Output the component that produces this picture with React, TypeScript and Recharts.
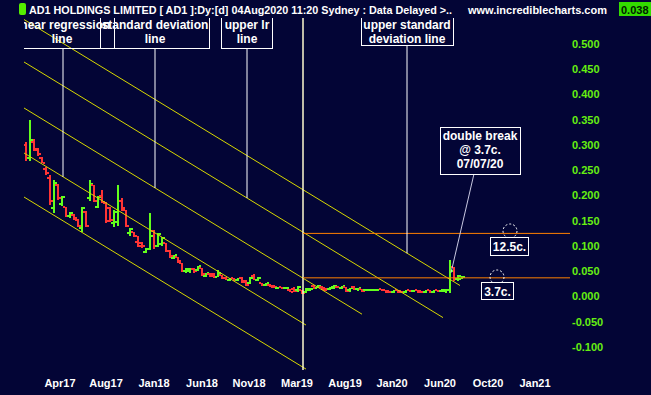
import { ComposedChart, Bar, XAxis, YAxis, ReferenceLine } from 'recharts';

// one bar every ~2 weeks (AUD)
const OPEN = [
  0.300, 0.275, 0.306, 0.292, 0.274, 0.252, 0.235, 0.175, 0.220, 0.183,
  0.178, 0.160, 0.162, 0.152, 0.135, 0.167, 0.195, 0.221, 0.178, 0.200,
  0.185, 0.176, 0.145, 0.148, 0.190, 0.172, 0.125, 0.128, 0.108, 0.106,
  0.088, 0.094, 0.130, 0.100, 0.104, 0.106, 0.090, 0.077, 0.078, 0.066,
  0.050, 0.050, 0.054, 0.052, 0.056, 0.040, 0.045, 0.044, 0.039, 0.042,
  0.037, 0.033, 0.036, 0.032, 0.036, 0.030, 0.026, 0.040, 0.032, 0.026,
  0.023, 0.023, 0.021, 0.016, 0.018, 0.016, 0.013, 0.015, 0.012, 0.012,
  0.008, 0.012, 0.020, 0.017, 0.019, 0.016, 0.015, 0.017, 0.019, 0.017,
  0.018, 0.012, 0.019, 0.014, 0.014, 0.012, 0.013, 0.012, 0.013, 0.014,
  0.012, 0.010, 0.009, 0.012, 0.010, 0.009, 0.012, 0.010, 0.012, 0.010,
  0.009, 0.012, 0.009, 0.012, 0.010, 0.010, 0.012, 0.058, 0.034, 0.035,
];
const HIGH = [
  0.305, 0.350, 0.312, 0.295, 0.276, 0.256, 0.240, 0.231, 0.222, 0.199,
  0.178, 0.168, 0.164, 0.153, 0.178, 0.170, 0.231, 0.221, 0.199, 0.211,
  0.188, 0.178, 0.172, 0.221, 0.195, 0.172, 0.136, 0.128, 0.120, 0.108,
  0.096, 0.165, 0.132, 0.126, 0.118, 0.106, 0.092, 0.083, 0.079, 0.066,
  0.057, 0.056, 0.056, 0.061, 0.057, 0.047, 0.046, 0.046, 0.052, 0.043,
  0.038, 0.037, 0.037, 0.037, 0.038, 0.032, 0.038, 0.044, 0.038, 0.027,
  0.027, 0.024, 0.023, 0.019, 0.019, 0.018, 0.014, 0.018, 0.021, 0.013,
  0.017, 0.016, 0.023, 0.022, 0.020, 0.017, 0.019, 0.023, 0.020, 0.021,
  0.019, 0.017, 0.020, 0.017, 0.015, 0.014, 0.014, 0.014, 0.014, 0.014,
  0.012, 0.011, 0.013, 0.013, 0.011, 0.013, 0.013, 0.013, 0.013, 0.011,
  0.013, 0.013, 0.013, 0.013, 0.014, 0.014, 0.072, 0.058, 0.043, 0.040,
];
const LOW = [
  0.268, 0.268, 0.288, 0.280, 0.264, 0.240, 0.180, 0.165, 0.190, 0.180,
  0.158, 0.157, 0.152, 0.138, 0.128, 0.138, 0.190, 0.187, 0.176, 0.185,
  0.147, 0.148, 0.138, 0.140, 0.170, 0.138, 0.120, 0.118, 0.098, 0.097,
  0.087, 0.092, 0.095, 0.098, 0.100, 0.088, 0.077, 0.076, 0.068, 0.048,
  0.048, 0.047, 0.047, 0.051, 0.042, 0.039, 0.038, 0.037, 0.038, 0.036,
  0.032, 0.032, 0.031, 0.031, 0.027, 0.020, 0.024, 0.032, 0.030, 0.022,
  0.022, 0.018, 0.018, 0.015, 0.015, 0.014, 0.008, 0.009, 0.010, 0.006,
  0.007, 0.011, 0.016, 0.016, 0.012, 0.012, 0.014, 0.016, 0.016, 0.016,
  0.009, 0.010, 0.013, 0.012, 0.009, 0.011, 0.012, 0.011, 0.012, 0.011,
  0.007, 0.007, 0.008, 0.007, 0.007, 0.008, 0.009, 0.009, 0.008, 0.008,
  0.008, 0.008, 0.008, 0.009, 0.009, 0.007, 0.007, 0.030, 0.032, 0.034,
];
const CLOSE = [
  0.275, 0.310, 0.290, 0.283, 0.265, 0.244, 0.190, 0.225, 0.195, 0.198,
  0.160, 0.165, 0.155, 0.140, 0.175, 0.140, 0.222, 0.190, 0.198, 0.187,
  0.150, 0.152, 0.168, 0.190, 0.175, 0.140, 0.134, 0.120, 0.100, 0.100,
  0.094, 0.120, 0.100, 0.124, 0.115, 0.090, 0.080, 0.082, 0.070, 0.050,
  0.055, 0.054, 0.050, 0.060, 0.044, 0.046, 0.040, 0.039, 0.046, 0.037,
  0.033, 0.036, 0.032, 0.036, 0.028, 0.022, 0.036, 0.033, 0.037, 0.023,
  0.026, 0.019, 0.019, 0.018, 0.016, 0.017, 0.009, 0.010, 0.019, 0.007,
  0.015, 0.014, 0.017, 0.021, 0.013, 0.014, 0.018, 0.020, 0.017, 0.020,
  0.011, 0.016, 0.015, 0.016, 0.011, 0.013, 0.013, 0.013, 0.014, 0.012,
  0.008, 0.008, 0.012, 0.008, 0.009, 0.012, 0.010, 0.012, 0.009, 0.009,
  0.012, 0.009, 0.012, 0.010, 0.013, 0.012, 0.050, 0.034, 0.040, 0.038,
];

// x axis is in bar numbers
const DATE_TICKS = [8.5, 20, 32, 44, 55.75, 67.75, 79.75, 91.5, 103.5, 115.5, 127.25];
const DATE_LABELS = ['Apr17', 'Aug17', 'Jan18', 'Jun18', 'Nov18', 'Mar19', 'Aug19', 'Jan20', 'Jun20', 'Oct20', 'Jan21'];
const PRICE_TICKS = [0.5, 0.45, 0.4, 0.35, 0.3, 0.25, 0.2, 0.15, 0.1, 0.05, 0, -0.05, -0.1];

// regression channel: upper sd, upper lr, sd, lr, lower sd
const CHANNEL_START_X = -0.5;
const CHANNEL_START = [0.5485, 0.4644, 0.3733, 0.2842, 0.197];
const CHANNEL_END_X = [108.5, 104.25, 84, 70, 70];
const CHANNEL_END = [0.0218, -0.0417, -0.035, -0.0565, -0.1437];

// annotation pointers: bar position, which channel line, price at box bottom
const POINTER_X = [9.25, 32.25, 55.25, 95.25];
const POINTER_LINE = [3, 2, 1, 0];
const POINTER_TOP = [0.492, 0.492, 0.492, 0.498];

const MARCH19_X = 69.25;
const LEVELS = [0.125, 0.037];
const BREAK_FROM = { x: 112, y: 0.243 };
const BREAK_TO = { x: 106.25, y: 0.047 };

const BG = '#030536';
const GREEN = '#62ff1c';
const RED = '#ff3434';
const YELLOW = '#d8d800';
const FONT = '"Liberation Sans", Arial, sans-serif';

const data = OPEN.map((o, i) => ({
  i,
  range: [LOW[i], HIGH[i]],
  o,
  h: HIGH[i],
  l: LOW[i],
  c: CLOSE[i],
}));

function channelAt(k: number, x: number) {
  const t = (x - CHANNEL_START_X) / (CHANNEL_END_X[k] - CHANNEL_START_X);
  return CHANNEL_START[k] + t * (CHANNEL_END[k] - CHANNEL_START[k]);
}

function OhlcShape(props: any) {
  let { x, y, width, height, payload } = props;
  if (x == null || y == null || !payload) return null;
  if (height < 0) {
    y += height;
    height = -height;
  }
  const cx = Math.round(x + width / 2);
  const span = payload.h - payload.l;
  const py = (v: number) => (span > 0 ? y + ((payload.h - v) / span) * height : y);
  const col = payload.c >= payload.o ? GREEN : RED;
  return (
    <g>
      <rect x={cx - 1} y={Math.round(y)} width={2} height={Math.max(2, Math.round(height))} fill={col} />
      <rect x={cx - 3} y={Math.round(py(payload.o)) - 1} width={2} height={2} fill={col} />
      <rect x={cx + 1} y={Math.round(py(payload.c)) - 1} width={2} height={2} fill={col} />
    </g>
  );
}

function DateTick(props: any) {
  const { x, y, payload } = props;
  const idx = DATE_TICKS.indexOf(payload.value);
  return (
    <text x={x} y={y + 1} dy="0.71em" textAnchor="middle" fill="#ffffff" fontSize={11} fontWeight="bold" fontFamily={FONT}>
      {DATE_LABELS[idx]}
    </text>
  );
}

function PriceTick(props: any) {
  const { x, y, payload } = props;
  return (
    <text x={x - 6} y={y} dy="0.35em" textAnchor="start" fill="#66f011" fontSize={11} fontWeight="bold" fontFamily={FONT}>
      {payload.value.toFixed(3)}
    </text>
  );
}

function Box({ x, y, w, h, lines, cx, ty, fill }: any) {
  return (
    <g>
      <rect x={x + 0.5} y={y + 0.5} width={w} height={h} fill={fill ? BG : 'none'} stroke="#ffffff" strokeWidth={1} />
      {lines.map((t: string, k: number) => (
        <text key={k} x={cx} y={ty + k * 14} textAnchor="middle" fill="#ffffff" fontSize={12} fontWeight="bold" fontFamily={FONT}>
          {t}
        </text>
      ))}
    </g>
  );
}

export default function App() {
  return (
    <div style={{ position: 'absolute', left: 0, top: 0, width: 651, height: 395, background: BG, overflow: 'hidden' }}>
      <ComposedChart width={651} height={395} data={data} margin={{ top: 18, right: 21, left: 24, bottom: 0 }}>
        <XAxis
          type="number"
          dataKey="i"
          domain={[-0.5, 136]}
          allowDataOverflow
          ticks={DATE_TICKS}
          interval={0}
          axisLine={false}
          tickLine={false}
          height={25}
          tick={<DateTick />}
        />
        <YAxis
          orientation="right"
          type="number"
          domain={[-0.1455, 0.5515]}
          allowDataOverflow
          ticks={PRICE_TICKS}
          interval={0}
          axisLine={false}
          tickLine={false}
          width={60}
          tick={<PriceTick />}
        />
        {CHANNEL_START.map((s, k) => (
          <ReferenceLine
            key={'ch' + k}
            segment={[{ x: CHANNEL_START_X, y: s }, { x: CHANNEL_END_X[k], y: CHANNEL_END[k] }]}
            stroke={YELLOW}
            strokeWidth={1}
            ifOverflow="visible"
          />
        ))}
        <ReferenceLine x={MARCH19_X} stroke="#fffbd0" strokeWidth={1.5} />
        {LEVELS.map((v) => (
          <ReferenceLine
            key={'lv' + v}
            segment={[{ x: MARCH19_X, y: v }, { x: 136, y: v }]}
            stroke="#ff8000"
            strokeWidth={1}
            ifOverflow="visible"
          />
        ))}
        {POINTER_X.map((px, k) => (
          <ReferenceLine
            key={'pt' + k}
            segment={[{ x: px, y: POINTER_TOP[k] }, { x: px, y: channelAt(POINTER_LINE[k], px) }]}
            stroke="#ffffff"
            strokeWidth={1}
            ifOverflow="visible"
          />
        ))}
        <Bar dataKey="range" barSize={4} isAnimationActive={false} shape={(p: any) => <OhlcShape {...p} />} />
        <ReferenceLine segment={[BREAK_FROM, BREAK_TO]} stroke="#c8c8e0" strokeWidth={1} ifOverflow="visible" />
      </ComposedChart>

      <svg width={651} height={395} style={{ position: 'absolute', left: 0, top: 0, pointerEvents: 'none' }}>
        <defs>
          <clipPath id="plot">
            <rect x={24} y={18} width={546} height={352} />
          </clipPath>
        </defs>
        {/* header */}
        <rect x={19} y={3} width={7} height={12} rx={2} fill="#55ee00" />
        <text x={29} y={14} fill="#ffffff" fontSize={11} fontWeight="bold" fontFamily={FONT} textLength={423} lengthAdjust="spacingAndGlyphs">
          AD1 HOLDINGS LIMITED [ AD1 ]:Dy:[d] 04Aug2020 11:20 Sydney : Data Delayed &gt;..
        </text>
        <text x={468} y={14} fill="#ffffff" fontSize={11} fontWeight="bold" fontFamily={FONT}>
          www.incrediblecharts.com
        </text>
        <rect x={619} y={2} width={32} height={14} fill="#33dd00" />
        <text x={621} y={14} fill="#002200" fontSize={11} fontWeight="bold" fontFamily={FONT}>
          0.038
        </text>

        <g clipPath="url(#plot)">
          <Box x={10} y={10} w={104} h={38} cx={62} ty={29} lines={['linear regression', 'line']} />
          <Box x={100} y={10} w={109} h={38} cx={155} ty={29} lines={['standard deviation', 'line']} />
          <Box x={221} y={10} w={51} h={38} cx={247} ty={29} lines={['upper lr', 'line']} />
          <Box x={361} y={10} w={92} h={35} cx={407} ty={29} lines={['upper standard', 'deviation line']} />
        </g>
        <Box x={440} y={127} w={80} h={47} cx={480} ty={140} fill lines={['double break', '@ 3.7c.', '07/07/20']} />

        <circle cx={510} cy={231} r={7} fill="none" stroke="#ffffff" strokeDasharray="2 2" />
        <Box x={490} y={237} w={38} h={18} cx={509.5} ty={251} fill lines={['12.5c.']} />
        <circle cx={497} cy={277} r={7} fill="none" stroke="#ffffff" strokeDasharray="2 2" />
        <Box x={481} y={282} w={32} h={17} cx={497.5} ty={296} fill lines={['3.7c.']} />
      </svg>
    </div>
  );
}
